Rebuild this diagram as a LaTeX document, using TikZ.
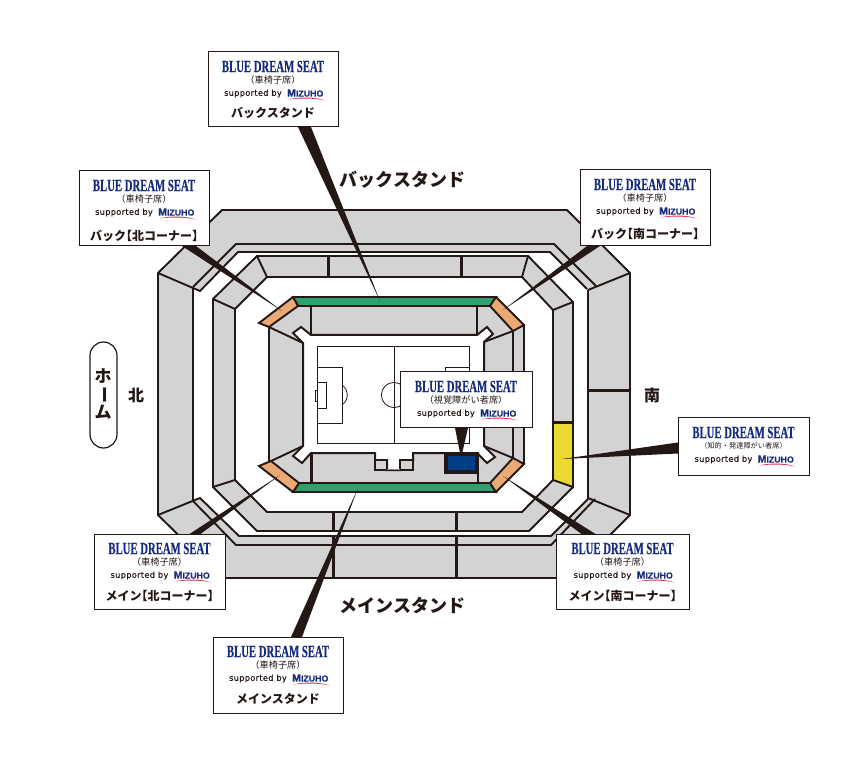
\documentclass[tikz,border=0pt]{standalone}
\usepackage{fontspec}
\setmainfont{Liberation Sans}
\newfontfamily\jpf{Noto Sans CJK JP}
\newfontfamily\seatf[FakeStretch=0.63,FakeBold=0.4]{Liberation Serif Bold}
\newfontfamily\suppf[LetterSpace=4,FakeBold=0.3]{DejaVu Sans}
\newfontfamily\mizf[FakeStretch=1.0,FakeBold=0.3]{Liberation Sans Bold}
\definecolor{ink}{HTML}{231815}
\definecolor{seat}{HTML}{D3D3D4}
\definecolor{grn}{HTML}{2CA36E}
\definecolor{org}{HTML}{EBA974}
\definecolor{yel}{HTML}{EBD92F}
\definecolor{blu}{HTML}{003F88}
\definecolor{navy}{HTML}{172C7C}
\definecolor{swoosh}{HTML}{E0304A}
\newcommand{\lbk}{\kern-6pt【}
\newcommand{\rbk}{】\kern-6pt}
\tikzset{
  x=1pt,y=-1pt,
  ln/.style={draw=ink,line width=1.9pt,line join=miter},
  thick div/.style={draw=ink,line width=3pt},
  fine/.style={draw=ink,line width=0.8pt},
  wedge/.style={fill=ink,draw=none},
  seatbox/.style={draw=ink,line width=1pt,fill=white,inner sep=0pt,outer sep=0pt},
  seattxt/.style={text=navy,inner sep=0pt,font=\seatf\fontsize{17}{18}\selectfont},
  subtxt/.style={text=ink,inner sep=0pt,font=\jpf\fontsize{9.2}{10}\selectfont},
  supptxt/.style={text=ink,inner sep=0pt,font=\suppf\fontsize{8.2}{9}\selectfont},
  miztxt/.style={text=navy,inner sep=0pt,font=\mizf\fontsize{8.8}{9}\selectfont},
  lbl/.style={text=ink,inner sep=0pt,font=\jpf\bfseries\fontsize{12}{13}\selectfont},
  biglbl/.style={text=ink,inner sep=0pt,font=\jpf\bfseries\fontsize{18}{20}\selectfont},
  dirlbl/.style={text=ink,inner sep=0pt,font=\jpf\bfseries\fontsize{16}{18}\selectfont},
  homelbl/.style={text=ink,inner sep=0pt,font=\jpf\bfseries\fontsize{17}{18}\selectfont},
}
% id, centre x, top y, width, height, sub text
\newcommand{\seatpanel}[6]{%
  \node[seatbox,anchor=north,minimum width=#4pt,minimum height=#5pt] (#1) at (#2,#3) {};
  \node[seattxt] (#1t) at ([yshift=-14.5pt]#1.north) {BLUE DREAM SEAT};
  \node[subtxt] (#1s) at ([yshift=-28pt]#1.north) {#6};
  \node[supptxt,anchor=east] (#1p) at ([xshift=9pt,yshift=-41.5pt]#1.north) {supported by};
  \node[miztxt,anchor=west] (#1m) at ([xshift=14pt,yshift=-41pt]#1.north) {{\fontsize{10.5}{9}\selectfont M}IZUHO};
  \fill[swoosh] ([xshift=15pt,yshift=-47.5pt]#1.north) .. controls ([xshift=28pt,yshift=-44.5pt]#1.north) and ([xshift=42pt,yshift=-45pt]#1.north) .. ([xshift=52pt,yshift=-48.5pt]#1.north) .. controls ([xshift=42pt,yshift=-46.2pt]#1.north) and ([xshift=28pt,yshift=-46pt]#1.north) .. cycle;
}
\begin{document}
\begin{tikzpicture}
\useasboundingbox (0,0) rectangle (852,767);
\fill[white] (0,0) rectangle (852,767);
% outer ring
\path[ln,fill=seat] (222,210) -- (567,210) -- (630,273) -- (630,515) -- (567,578) -- (222,578) -- (158,515) -- (158,273) -- cycle;
\path[fill=white] (238,252) -- (200,291) -- (193,288) -- (193,501) -- (200,498) -- (239,536) -- (551,536) -- (588,499) -- (588,290) -- (550,252) -- cycle;
\path[ln] (193,288) -- (193,501);
\path[ln] (588,290) -- (588,499);
\path[ln] (158,273) -- (200,291) -- (238,252) -- (550,252) -- (587,289);
\path[ln] (193,287) -- (236,244) -- (554,244) -- (596,286);
\path[ln] (630,273) -- (588,290);
\path[ln] (158,515) -- (200,498) -- (239,536) -- (551,536) -- (588,499);
\path[ln] (193,501) -- (236,545) -- (551,545) -- (595,499);
\path[ln] (630,515) -- (588,498);
\path[thick div] (333,536) -- (333,578);
\path[thick div] (456,536) -- (456,578);
\path[thick div] (588,391) -- (630,391);
% middle ring
\path[ln,fill=seat] (257,256) -- (528,256) -- (573,302) -- (573,487) -- (529,531) -- (257,531) -- (213,487) -- (213,299) -- cycle;
\path[ln,fill=white] (267,277) -- (522,277) -- (553,310) -- (553,480) -- (522,512) -- (267,512) -- (235,480) -- (235,309) -- cycle;
\path[ln] (257,256) -- (267,277);
\path[ln] (213,299) -- (235,309);
\path[ln] (528,256) -- (522,277);
\path[ln] (573,302) -- (553,310);
\path[ln] (213,487) -- (235,480);
\path[thick div] (328,256) -- (328,277);
\path[thick div] (461,256) -- (461,277);
\path[thick div] (333,512) -- (333,531);
\path[thick div] (456,512) -- (456,531);
\path[ln,fill=yel] (553,423) -- (573,423) -- (573,487) -- (553,480) -- cycle;
\path[thick div] (553,423) -- (573,423);
% inner bowl
\path[fill=seat] (269,327) -- (293,297) -- (496,297) -- (524,325) -- (524,464) -- (496,492) -- (293,492) -- (269,462) -- cycle;
\path[ln] (269,327) -- (269,462);
\path[ln] (524,325) -- (524,464);
\path[ln] (513,331) -- (513,458);
\path[ln] (269,327) -- (303,343);
\path[ln] (269,462) -- (303,446);
\path[ln] (513,331) -- (484,342);
\path[ln] (513,458) -- (484,446);
\path[draw=ink,line width=2pt,line join=miter,fill=white] (303,343) -- (293,333) -- (301,327) -- (311,335) -- (477,335) -- (487,327) -- (493,334) -- (484,342) -- (484,446) -- (495,457) -- (487,463) -- (479,455) -- (478,453) -- (413,453) -- (413,460) -- (400,460) -- (400,470) -- (387,470) -- (387,460) -- (375,460) -- (375,453) -- (311,453) -- (302,463) -- (293,456) -- (303,446) -- cycle;
\path[ln] (311,306) -- (311,335);
\path[ln] (477,306) -- (477,335);
\path[thick div] (311,453) -- (311,483);
\path[ln] (478,470) -- (478,483);
% small squares
\path[draw=ink,line width=2pt,fill=seat] (375,460) rectangle (387,470);
\path[draw=ink,line width=2pt,fill=seat] (400,460) rectangle (413,470);
\path[draw=seat!60!ink,line width=0.8pt] (387,469.5) -- (400,469.5);
% blue
\path[draw=ink,line width=3.2pt,fill=blu] (446,454.5) rectangle (477,472);
% green and orange
\path[ln,fill=grn] (293,297) -- (496,297) -- (490,306) -- (298,306) -- cycle;
\path[ln,fill=grn] (299,483) -- (490,483) -- (496,492) -- (293,492) -- cycle;
\path[ln,fill=org] (259,323) -- (293,297) -- (298,306) -- (269,327) -- cycle;
\path[ln,fill=org] (259,466) -- (271,461) -- (299,483) -- (293,492) -- cycle;
\path[ln,fill=org] (496,297) -- (524,325) -- (513,331) -- (490,306) -- cycle;
\path[ln,fill=org] (513,458) -- (524,464) -- (496,492) -- (490,483) -- cycle;
% pitch
\path[fine,fill=white] (317,346) rectangle (469,443);
\path[fine] (394,346) -- (394,443);
\path[fine] (394,395) circle (12.6);
\path[fine] (317,367) rectangle (342,423);
\path[fine] (317,382) rectangle (326,408);
\path[fine] (315,390) rectangle (317,401);
\path[fine] (342,385) .. controls (349,390) and (349,400) .. (342,405);
\path[fine] (445,367) rectangle (469,423);
% panels
\seatpanel{pa}{273}{52}{130}{75}{（車椅子席）}
\seatpanel{pb}{144}{171}{130}{75}{（車椅子席）}
\seatpanel{pc}{645}{170}{130}{76}{（車椅子席）}
\seatpanel{pd}{159.5}{534}{131}{75}{（車椅子席）}
\seatpanel{pe}{622.5}{534}{133}{75}{（車椅子席）}
\seatpanel{pf}{278}{637}{130}{76}{（車椅子席）}
\seatpanel{pg}{466}{372}{132}{56}{（視覚障がい者席）}
\seatpanel{ph}{743.5}{418}{131}{57}{\fontsize{7.2}{9}\selectfont（知的・発達障がい者席）}
% leaders: wedges from panel to seat
\coordinate (ta) at (380,301);
\coordinate (tb) at (282,311);
\coordinate (tc) at (503,310);
\coordinate (td) at (280,475);
\coordinate (te) at (503,476);
\coordinate (tf) at (358,488);
\coordinate (tg) at (461,458);
\coordinate (th) at (562,459);
\path[wedge] ([xshift=25pt]pa.south) -- ([xshift=38pt]pa.south) -- (ta) -- cycle;
\path[wedge] ([xshift=38pt]pb.south) -- ([xshift=52pt]pb.south) -- (tb) -- cycle;
\path[wedge] ([xshift=-58pt]pc.south) -- ([xshift=-45pt]pc.south) -- (tc) -- cycle;
\path[wedge] ([xshift=30pt]pd.north) -- ([xshift=41pt]pd.north) -- (td) -- cycle;
\path[wedge] ([xshift=-41pt]pe.north) -- ([xshift=-27pt]pe.north) -- (te) -- cycle;
\path[wedge] ([xshift=13pt]pf.north) -- ([xshift=24pt]pf.north) -- (tf) -- cycle;
\path[wedge] ([xshift=-11pt]pg.south) -- ([xshift=2pt]pg.south) -- (tg) -- cycle;
\path[wedge] ([yshift=4pt]ph.west) -- ([yshift=-7pt]ph.west) -- (th) -- cycle;
% panel labels
\node[lbl] (la) at ([yshift=-61pt]pa.north) {バックスタンド};
\node[lbl] (lb) at ([yshift=-64.5pt]pb.north) {バック\lbk 北コーナー\rbk};
\node[lbl] (lc) at ([yshift=-63.5pt]pc.north) {バック\lbk 南コーナー\rbk};
\node[lbl] (ld) at ([yshift=-61.5pt]pd.north) {メイン\lbk 北コーナー\rbk};
\node[lbl] (le) at ([yshift=-61.5pt]pe.north) {メイン\lbk 南コーナー\rbk};
\node[lbl] (lf) at ([yshift=-62pt]pf.north) {メインスタンド};
% stand labels
\node[biglbl] (back) at (402.5,180) {バックスタンド};
\node[biglbl] (main) at (402.5,606) {メインスタンド};
\node[dirlbl] (north) at (136,395) {北};
\node[dirlbl] (south) at (652,395) {南};
\node[draw=ink,line width=1.2pt,rounded corners=13.5pt,minimum width=27pt,minimum height=106pt,inner sep=0pt] (home) at (103.5,395) {};
\node[homelbl] (h1) at (103,376) {ホ};
\node[homelbl,rotate=-90] (h2) at (103,395) {ー};
\node[homelbl] (h3) at (103,412) {ム};
\end{tikzpicture}
\end{document}
